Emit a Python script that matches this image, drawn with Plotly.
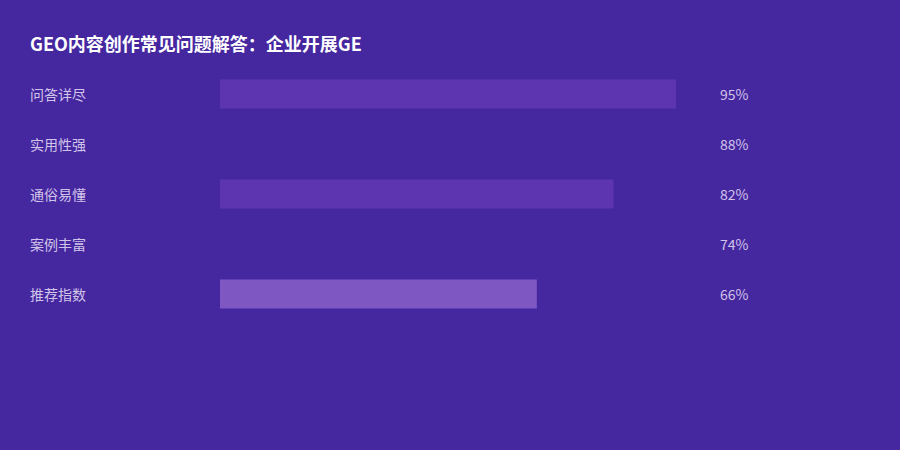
"""
Horizontal bar chart: GEO content FAQ ratings
"""

import plotly.graph_objects as go

categories = ["问答详尽", "实用性强", "通俗易懂", "案例丰富", "推荐指数"]
values = [95, 88, 82, 74, 66]
bar_colors = ["#5e35b1", "#4527a0", "#5e35b1", "#4527a0", "#7e57c2"]

title_text = "GEO内容创作常见问题解答：企业开展GE"

BG = "#4527a0"
LABEL = "#d1c4e9"
FONT = "Noto Sans CJK SC, Noto Sans, sans-serif"

fig = go.Figure()

fig.add_trace(
    go.Bar(
        x=values,
        y=categories,
        orientation="h",
        marker={"color": bar_colors, "line": {"width": 0}},
        hoverinfo="skip",
    )
)

# Category names on the left, values on the right
for cat, val in zip(categories, values):
    fig.add_annotation(
        x=-192 / 480, xref="paper", y=cat, yref="y",
        text=cat, xanchor="left", showarrow=False,
        font={"size": 14, "color": LABEL, "family": FONT},
    )
    fig.add_annotation(
        x=498 / 480, xref="paper", y=cat, yref="y",
        text=f"{val}%", xanchor="left", showarrow=False,
        font={"size": 14, "color": LABEL, "family": FONT},
    )

fig.update_layout(
    width=900,
    height=450,
    paper_bgcolor=BG,
    plot_bgcolor=BG,
    margin={"l": 220, "r": 200, "t": 69, "b": 131},
    bargap=0.42,
    showlegend=False,
    title={
        "text": f"<b>{title_text}</b>",
        "x": 30 / 900, "xref": "container", "xanchor": "left",
        "y": 1 - 45 / 450, "yref": "container", "yanchor": "middle",
        "font": {"size": 18, "color": "#ffffff", "family": FONT},
    },
)
fig.update_xaxes(range=[0, 100], visible=False, fixedrange=True)
fig.update_yaxes(
    autorange="reversed", visible=False, fixedrange=True,
    categoryorder="array", categoryarray=categories,
)

# drop the browser's default page margin so the chart fills the window
fig.write_html(
    "out.html",
    config={"displayModeBar": False},
    post_script="document.body.style.margin = '0';",
)
